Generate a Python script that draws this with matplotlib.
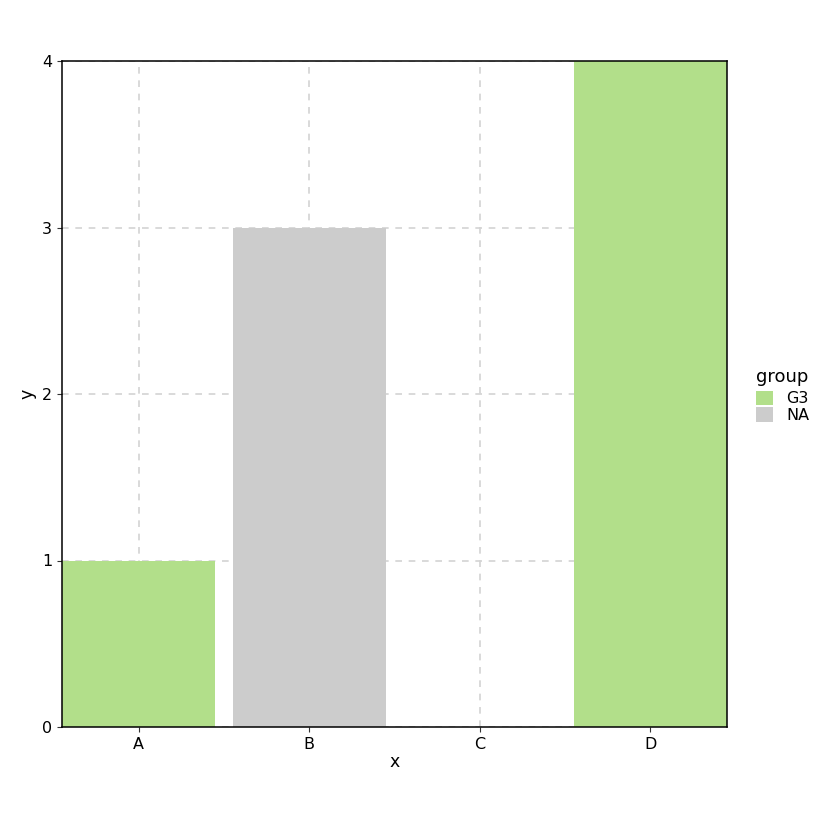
import numpy as np
import matplotlib.pyplot as plt
from matplotlib.patches import Patch

CATEGORIES = ["A", "B", "C", "D"]
VALUES = [1, 3, np.nan, 4]
GROUPS = ["G3", "NA", None, "G3"]
GROUP_COLORS = {"G3": "#b2df8a", "NA": "#cccccc"}

fig = plt.figure(figsize=(8.4, 8.4), dpi=100)
ax = fig.add_axes([62 / 840, 113 / 840, 665 / 840, 666 / 840])

xpos = np.arange(1, len(CATEGORIES) + 1)
for x, v, g in zip(xpos, VALUES, GROUPS):
    if g is None or np.isnan(v):
        continue
    ax.bar(x, v, width=0.9, color=GROUP_COLORS[g], zorder=2, linewidth=0)

ax.set_xlim(0.55, len(CATEGORIES) + 0.45)
ax.set_ylim(0, 4)
ax.set_xticks(xpos)
ax.set_xticklabels(CATEGORIES)
ax.set_yticks(range(0, 5))
ax.grid(True, color="#d3d3d3", linestyle=(0, (4, 4)), linewidth=1.2, zorder=0)
ax.set_axisbelow(True)
for s in ax.spines.values():
    s.set_color("black")
    s.set_linewidth(1.1)
ax.tick_params(labelsize=11.5, color="#333333", length=3.5)
ax.set_xlabel("x", fontsize=12.5, labelpad=1)
ax.set_ylabel("y", fontsize=12.5, labelpad=4)

handles = [Patch(facecolor=GROUP_COLORS[k], edgecolor="none", label=k) for k in ["G3", "NA"]]
leg = fig.legend(handles=handles, title="group", loc="upper left",
                 bbox_to_anchor=(750 / 840, 1 - 362 / 840), frameon=False,
                 fontsize=11.5, title_fontsize=13, handlelength=1.05, handleheight=1.05,
                 handletextpad=0.8, labelspacing=0.05, borderaxespad=0)
leg._legend_box.align = "left"
leg._legend_box.sep = 3

fig.savefig("out.png", dpi=100)
